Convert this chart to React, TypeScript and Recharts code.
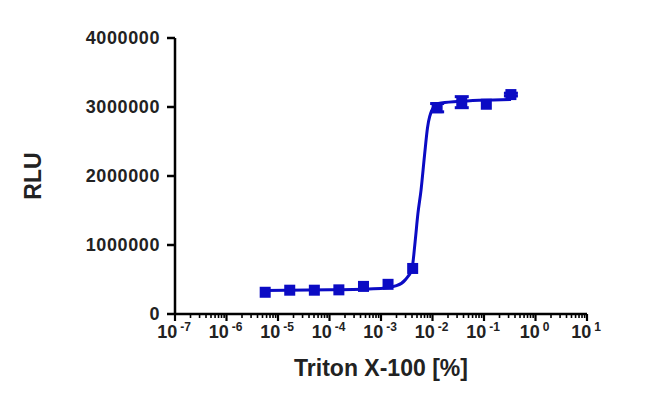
import React from "react"
import { ComposedChart, Line, Scatter, XAxis, YAxis, ErrorBar, Label } from "recharts"

// measured points (3-fold dilution series)
const concentrations = [0.00000564, 0.0000169, 0.0000508, 0.000152, 0.000457, 0.00137, 0.00412, 0.0123, 0.037, 0.111, 0.333]
const rlu = [315000, 345000, 345000, 350000, 400000, 430000, 660000, 2990000, 3070000, 3040000, 3180000]
const rluError = [0, 0, 0, 0, 0, 0, 0, 60000, 80000, 0, 20000]

// fitted curve
const fitConc = [0.0000056, 0.0001, 0.001, 0.002, 0.003, 0.004, 0.0046, 0.0052, 0.006, 0.007, 0.008, 0.01, 0.013, 0.03, 0.335]
const fitRlu = [340000, 350000, 370000, 410000, 500000, 660000, 1050000, 1450000, 1800000, 2300000, 2700000, 2970000, 3050000, 3080000, 3110000]

const decades = [1e-7, 1e-6, 1e-5, 1e-4, 1e-3, 1e-2, 1e-1, 1, 10]
const decadeExponents = ["-7", "-6", "-5", "-4", "-3", "-2", "-1", "0", "1"]
const yTicks = [0, 1000000, 2000000, 3000000, 4000000]

const BLUE = "#0b0bc4"
const FONT = "'Liberation Sans', Arial, sans-serif"

const points = concentrations.map((c, i) => ({ conc: c, rlu: rlu[i], err: rluError[i] }))
const curve = fitConc.map((c, i) => ({ conc: c, rlu: fitRlu[i] }))

// decade ticks plus the 2..9 minor ticks in between
const xTicks: number[] = []
decades.forEach((d, i) => {
  xTicks.push(d)
  if (i < decades.length - 1) {
    for (let m = 2; m <= 9; m++) xTicks.push(+(d * m).toPrecision(3))
  }
})

const XTick = (props: any) => {
  const { x, y, payload } = props
  const idx = decades.findIndex((d) => Math.abs(d - payload.value) / d < 1e-6)
  const major = idx >= 0
  return (
    <g>
      <line x1={x} x2={x} y1={y} y2={y + (major ? 7 : 4)} stroke="#000" strokeWidth={major ? 2.2 : 1.6} />
      {major && (
        <text x={x - 1} y={y + 24} textAnchor="middle" fontFamily={FONT} fontWeight="bold" fontSize={18} fill="#222">
          10
          <tspan dx={3} dy={-7} fontSize={12}>
            {decadeExponents[idx]}
          </tspan>
        </text>
      )}
    </g>
  )
}

const Square = (props: any) => {
  const { cx, cy } = props
  return <rect x={cx - 5.5} y={cy - 5.5} width={11} height={11} fill={BLUE} />
}

export default function App() {
  return (
    <div style={{ position: "absolute", left: 0, top: 0, width: 650, height: 400, background: "#fff" }}>
      <ComposedChart width={650} height={400} margin={{ top: 38, right: 63, bottom: 0, left: 0 }}>
        <XAxis
          dataKey="conc"
          type="number"
          scale="log"
          domain={[1e-7, 10]}
          ticks={xTicks}
          interval={0}
          allowDataOverflow
          tick={<XTick />}
          tickLine={false}
          tickSize={0}
          tickMargin={0}
          axisLine={{ stroke: "#000", strokeWidth: 2.5 }}
          height={86}
        >
          <Label
            value="Triton X-100 [%]"
            position="insideBottom"
            offset={24}
            style={{ fontFamily: FONT, fontWeight: "bold", fontSize: 23, fill: "#222" }}
          />
        </XAxis>
        <YAxis
          dataKey="rlu"
          type="number"
          domain={[0, 4000000]}
          ticks={yTicks}
          interval={0}
          width={175}
          tickSize={8}
          tickMargin={7}
          tickLine={{ stroke: "#000", strokeWidth: 2.5 }}
          axisLine={{ stroke: "#000", strokeWidth: 2.5 }}
          tick={{ fontFamily: FONT, fontWeight: "bold", fontSize: 18, fill: "#222", letterSpacing: 0.6 }}
        >
          <Label
            value="RLU"
            angle={-90}
            position="insideLeft"
            offset={33}
            style={{ fontFamily: FONT, fontWeight: "bold", fontSize: 23, fill: "#222", textAnchor: "middle" }}
          />
        </YAxis>
        <Line
          data={curve}
          dataKey="rlu"
          type="monotone"
          stroke={BLUE}
          strokeWidth={3}
          dot={false}
          activeDot={false}
          isAnimationActive={false}
        />
        <Scatter data={points} dataKey="rlu" fill={BLUE} shape={<Square />} isAnimationActive={false}>
          <ErrorBar dataKey="err" direction="y" width={7} stroke={BLUE} strokeWidth={3} />
        </Scatter>
      </ComposedChart>
    </div>
  )
}
